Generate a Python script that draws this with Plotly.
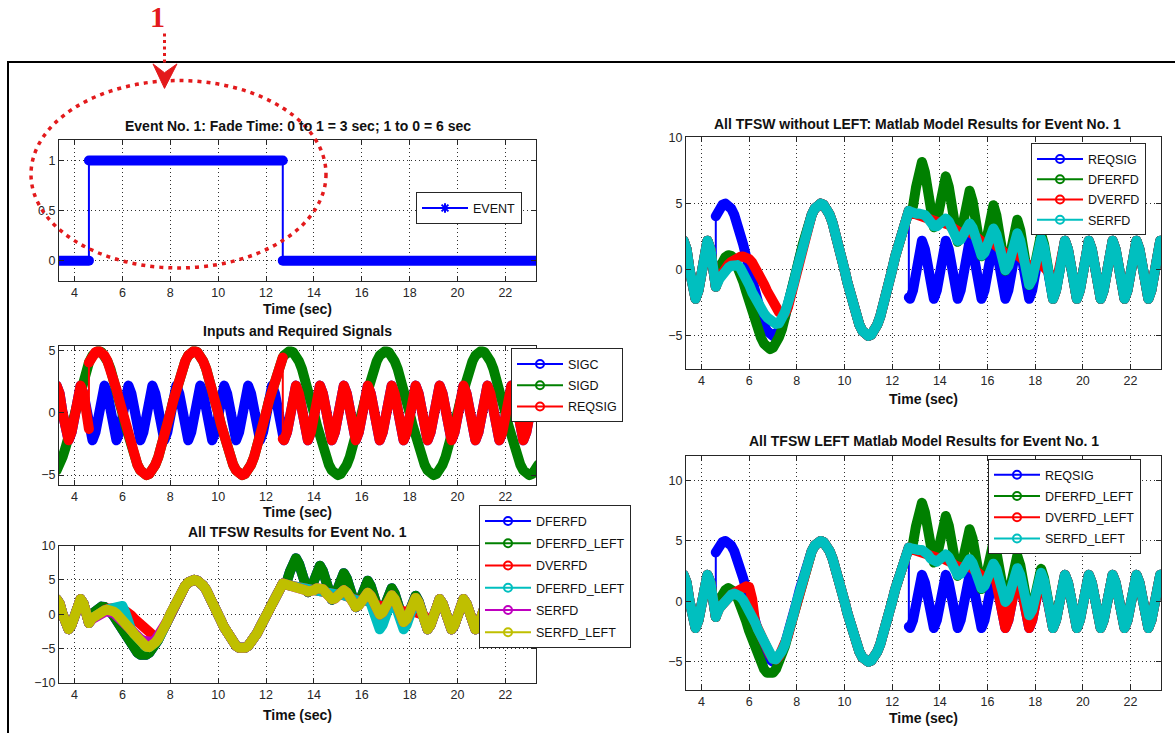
import plotly.graph_objects as go

W, H = 1175, 733

# ---------------- data ----------------
STEP = 0.125
SWITCH_ON = 4.6     # event 0 -> 1
SWITCH_OFF = 12.7   # event 1 -> 0
T = ([3.25 + STEP * i for i in range(11)] + [SWITCH_ON, SWITCH_ON]
     + [4.75 + STEP * i for i in range(63)] + [SWITCH_OFF, SWITCH_OFF]
     + [12.75 + STEP * i for i in range(86)])

EVENT_T = [3.25, 4.6, 4.6, 12.7, 12.7, 23.4]
EVENT_V = [0, 0, 1, 1, 0, 0]

SIGC = [
    2.2, 1.56, 0, -1.56, -2.2, -1.56, 0, 1.56, 2.2, 1.56, 0,        # 3.25 .. 4.5
    -1.29, -1.29,                                                    # 4.6
    -2.2, -1.56,                                                     # 4.75, 4.875
    0, 1.56, 2.2, 1.56, 0, -1.56, -2.2, -1.56,                       # 5
    0, 1.56, 2.2, 1.56, 0, -1.56, -2.2, -1.56,                       # 6
    0, 1.56, 2.2, 1.56, 0, -1.56, -2.2, -1.56,                       # 7
    0, 1.56, 2.2, 1.56, 0, -1.56, -2.2, -1.56,                       # 8
    0, 1.56, 2.2, 1.56, 0, -1.56, -2.2, -1.56,                       # 9
    0, 1.56, 2.2, 1.56, 0, -1.56, -2.2, -1.56,                       # 10
    0, 1.56, 2.2, 1.56, 0, -1.56, -2.2, -1.56,                       # 11
    0, 1.56, 2.2, 1.56, 0,                                           # 12 .. 12.5
    -2.09, -2.09,                                                    # 12.7
    -2.2, -1.56,                                                     # 12.75, 12.875
    0, 1.56, 2.2, 1.56, 0, -1.56, -2.2, -1.56,                       # 13
    0, 1.56, 2.2, 1.56, 0, -1.56, -2.2, -1.56,                       # 14
    0, 1.56, 2.2, 1.56, 0, -1.56, -2.2, -1.56,                       # 15
    0, 1.56, 2.2, 1.56, 0, -1.56, -2.2, -1.56,                       # 16
    0, 1.56, 2.2, 1.56, 0, -1.56, -2.2, -1.56,                       # 17
    0, 1.56, 2.2, 1.56, 0, -1.56, -2.2, -1.56,                       # 18
    0, 1.56, 2.2, 1.56, 0, -1.56, -2.2, -1.56,                       # 19
    0, 1.56, 2.2, 1.56, 0, -1.56, -2.2, -1.56,                       # 20
    0, 1.56, 2.2, 1.56, 0, -1.56, -2.2, -1.56,                       # 21
    0, 1.56, 2.2, 1.56, 0, -1.56, -2.2, -1.56,                       # 22
    0, 1.56, 2.2, 1.56,                                              # 23 .. 23.375
]

SIGD = [
    -4.62, -4.16, -3.54, -2.78, -1.91, -0.98, 0, 0.98, 1.91, 2.78, 3.54,   # 3.25 .. 4.5
    4.05, 4.05,                                                            # 4.6
    4.62, 4.90, 5.0, 4.90, 4.62, 4.16, 3.54, 2.78, 1.91, 0.98,             # 4.75 .. 5.875
    0, -0.98, -1.91, -2.78, -3.54, -4.16, -4.62, -4.90,                    # 6 ..
    -5.0, -4.90, -4.62, -4.16, -3.54, -2.78, -1.91, -0.98,                 # 7 ..
    0, 0.98, 1.91, 2.78, 3.54, 4.16, 4.62, 4.90,                           # 8 ..
    5.0, 4.90, 4.62, 4.16, 3.54, 2.78, 1.91, 0.98,                         # 9 ..
    0, -0.98, -1.91, -2.78, -3.54, -4.16, -4.62, -4.90,                    # 10 ..
    -5.0, -4.90, -4.62, -4.16, -3.54, -2.78, -1.91, -0.98,                 # 11 ..
    0, 0.98, 1.91, 2.78, 3.54,                                             # 12 .. 12.5
    4.46, 4.46,                                                            # 12.7
    4.62, 4.90, 5.0, 4.90, 4.62, 4.16, 3.54, 2.78, 1.91, 0.98,             # 12.75 .. 13.875
    0, -0.98, -1.91, -2.78, -3.54, -4.16, -4.62, -4.90,                    # 14 ..
    -5.0, -4.90, -4.62, -4.16, -3.54, -2.78, -1.91, -0.98,                 # 15 ..
    0, 0.98, 1.91, 2.78, 3.54, 4.16, 4.62, 4.90,                           # 16 ..
    5.0, 4.90, 4.62, 4.16, 3.54, 2.78, 1.91, 0.98,                         # 17 ..
    0, -0.98, -1.91, -2.78, -3.54, -4.16, -4.62, -4.90,                    # 18 ..
    -5.0, -4.90, -4.62, -4.16, -3.54, -2.78, -1.91, -0.98,                 # 19 ..
    0, 0.98, 1.91, 2.78, 3.54, 4.16, 4.62, 4.90,                           # 20 ..
    5.0, 4.90, 4.62, 4.16, 3.54, 2.78, 1.91, 0.98,                         # 21 ..
    0, -0.98, -1.91, -2.78, -3.54, -4.16, -4.62, -4.90,                    # 22 ..
    -5.0, -4.90, -4.62, -4.16,                                             # 23 .. 23.375
]

# fade-in window values, t = 4.6, 4.75 ... 7.75
DFER_ON = [-1.29, 0.1, 0.6, 0.95, 1.1, 1.05, 0.8, 0.35, -0.2, -0.9, -1.65, -2.45, -3.2,
           -3.95, -4.6, -5.15, -5.6, -5.9, -6.0, -5.9, -5.6, -5.1, -4.5, -3.7, -2.8, -1.91]
DVER_ON = [-1.29, -0.6, -0.2, 0.15, 0.4, 0.6, 0.78, 0.9, 0.98, 1.0, 0.95, 0.8, 0.55,
           0.2, -0.2, -0.65, -1.1, -1.6, -2.05, -2.5, -2.9, -3.2, -3.35, -3.3, -2.85, -1.91]
SER_ON = [-1.29, -0.7, -0.35, -0.1, 0.15, 0.3, 0.4, 0.35, 0.15, -0.2, -0.65, -1.15, -1.7,
          -2.2, -2.6, -2.95, -3.3, -3.6, -3.85, -4.0, -4.1, -4.05, -3.75, -3.2, -2.55, -1.91]
DVER_L_ON = [-1.29, -0.55, -0.2, 0.1, 0.35, 0.55, 0.7, 0.85, 1.0, 1.15, 1.25, 1.2, 0.2,
             -1.75, -2.35, -2.9, -3.45, -3.95, -4.4, -4.75, -4.8, -4.55, -4.1, -3.55, -2.85, -1.91]
SER_L_ON = [-1.29, -0.55, -0.2, 0.1, 0.35, 0.55, 0.65, 0.6, 0.4, 0.1, -0.3, -0.7, -1.2,
            -1.75, -2.35, -2.9, -3.45, -3.95, -4.4, -4.75, -4.8, -4.55, -4.1, -3.55, -2.85, -1.91]

# fade-out window values, t = 12.7, 12.75 ... 18.875
DFER_OFF = [4.46,
            4.30, 4.80,
            6.22, 7.65, 8.15, 7.37, 5.68, 3.98, 3.21, 3.71,
            5.13, 6.56, 7.06, 6.28, 4.59, 2.89, 2.11, 2.62,
            4.04, 5.46, 5.97, 5.19, 3.49, 1.80, 1.02, 1.53,
            2.95, 4.37, 4.88, 4.10, 2.40, 0.71, -0.07, 0.43,
            1.86, 3.28, 3.78, 3.01, 1.31, -0.39, -1.16, -0.66,
            0.76, 2.19, 2.69, 1.91, 0.22, -1.48, -2.2, -1.56]
DVER_OFF = [4.46,
            4.35, 4.25,
            4.2, 4.15, 4.15, 4.05, 3.9, 3.72, 3.6, 3.55,
            3.55, 3.55, 3.5, 3.4, 3.2, 3.0, 2.85, 2.8,
            2.85, 2.9, 2.85, 2.7, 2.45, 2.2, 2.0, 1.95,
            2.0, 2.05, 2.0, 1.8, 1.55, 1.3, 1.1, 1.05,
            1.1, 1.15, 1.1, 0.95, 0.7, 0.45, 0.3, 0.3,
            0.35, 0.4, 0.35, 0.2, 0.0, -0.3, -2.2, -1.56]
DVER_L_OFF = [4.46,
              4.35, 4.25,
              4.2, 4.15, 4.15, 4.05, 3.9, 3.72, 3.6, 3.55,
              3.55, 3.55, 3.5, 3.4, 3.2, 3.0, 2.85, 2.8,
              2.85, 2.9, 2.85, 2.7, 2.45, 2.2, 2.0, 1.95,
              1.8, 2.0, 2.2, 1.56, 0, -1.56, -2.2, -1.56,
              0, 1.56, 2.2, 1.56, 0, -1.56, -2.2, -1.56,
              0, 1.56, 2.2, 1.56, 0, -1.56, -2.2, -1.56]
SER_OFF = [4.46,
           4.41, 4.28,
           4.24, 4.25, 4.25, 4.13, 3.87, 3.53, 3.29, 3.28,
           3.49, 3.77, 3.88, 3.65, 3.12, 2.53, 2.18, 2.28,
           2.75, 3.29, 3.50, 3.17, 2.38, 1.53, 1.08, 1.28,
           2.01, 2.80, 3.12, 2.68, 1.64, 0.52, -0.04, 0.27,
           1.26, 2.32, 2.75, 2.20, 0.89, -0.48, -1.15, -0.73,
           0.52, 1.84, 2.37, 1.72, 0.15, -1.48, -2.2, -1.56]

# required signal: SIGC, then SIGD while the event is on, then SIGC again
REQSIG = SIGC[:12] + SIGD[12:77] + SIGC[77:]


def faded(on_vals, off_vals):
    return SIGC[:12] + on_vals + SIGD[38:77] + off_vals + SIGC[128:]


DFERFD = faded(DFER_ON, DFER_OFF)
DFERFD_LEFT = faded(DFER_ON, DFER_OFF)
DVERFD = faded(DVER_ON, DVER_OFF)
DVERFD_LEFT = faded(DVER_L_ON, DVER_L_OFF)
SERFD = faded(SER_ON, SER_OFF)
SERFD_LEFT = faded(SER_L_ON, SER_OFF)

for arr in (SIGC, SIGD, REQSIG, DFERFD, DVERFD, DVERFD_LEFT, SERFD, SERFD_LEFT):
    assert len(arr) == len(T), len(arr)

# ---------------- styling ----------------
BLUE, GREEN, RED = "#0000ff", "#008000", "#ff0000"
CYAN, MAGENTA, OLIVE = "#00bfbf", "#bf00bf", "#bfbf00"
INK = "#262626"
SANS = "Liberation Sans, Arial, sans-serif"


def xp(px):
    return px / W


def yp(py):
    return 1 - py / H


PANELS = {
    1: dict(box=(59, 536, 136, 279), yr=[-0.2, 1.2], yt=[0, 0.5, 1], ytt=["0", "0.5", "1"]),
    2: dict(box=(59, 536, 346, 487), yr=[-5.77, 5.35], yt=[-5, 0, 5], ytt=None),
    3: dict(box=(59, 536, 549, 689), yr=[-10, 10], yt=[-10, -5, 0, 5, 10], ytt=None),
    4: dict(box=(686, 1161, 133, 369), yr=[-7.5, 10], yt=[-5, 0, 5, 10], ytt=None),
    5: dict(box=(686, 1161, 458, 696), yr=[-7.3, 12], yt=[-5, 0, 5, 10], ytt=None),
}
XRANGE = [3.35, 23.28]
XTICKS = [4, 6, 8, 10, 12, 14, 16, 18, 20, 22]

SERIES = {
    1: [("EVENT", BLUE, EVENT_T, EVENT_V)],
    2: [("SIGC", BLUE, T, SIGC), ("SIGD", GREEN, T, SIGD), ("REQSIG", RED, T, REQSIG)],
    3: [("DFERFD", BLUE, T, DFERFD), ("DFERFD_LEFT", GREEN, T, DFERFD_LEFT),
        ("DVERFD", RED, T, DVERFD), ("DFERFD_LEFT", CYAN, T, DVERFD_LEFT),
        ("SERFD", MAGENTA, T, SERFD), ("SERFD_LEFT", OLIVE, T, SERFD_LEFT)],
    4: [("REQSIG", BLUE, T, REQSIG), ("DFERFD", GREEN, T, DFERFD),
        ("DVERFD", RED, T, DVERFD), ("SERFD", CYAN, T, SERFD)],
    5: [("REQSIG", BLUE, T, REQSIG), ("DFERFD_LEFT", GREEN, T, DFERFD_LEFT),
        ("DVERFD_LEFT", RED, T, DVERFD_LEFT), ("SERFD_LEFT", CYAN, T, SERFD_LEFT)],
}

LEGENDS = {
    1: dict(pos=(416, 189), gap=0),
    2: dict(pos=(511, 348), gap=2),
    3: dict(pos=(479, 508), gap=3),
    4: dict(pos=(1031, 139), gap=1),
    5: dict(pos=(988, 461), gap=2),
}

TITLES = {
    1: ("Event No. 1: Fade Time: 0 to 1 = 3 sec; 1 to 0 = 6 sec", 121, None),
    2: ("Inputs and Required Signals", 330, None),
    3: ("All TFSW Results for Event No. 1", 535, None),
    4: ("All TFSW without LEFT: Matlab Model Results for Event No. 1", 119, 917),
    5: ("All TFSW LEFT Matlab Model Results for Event No. 1", 442, None),
}
XLABEL_Y = {1: 308, 2: 515, 3: 722, 4: 400, 5: 725}


def thick_xy(t, v):
    xs, ys = [], []
    for i, (a, b) in enumerate(zip(t, v)):
        if i > 0 and a == t[i - 1]:
            if abs(b - v[i - 1]) > 0.5:
                xs.append(None)
                ys.append(None)
            else:
                continue
        xs.append(a)
        ys.append(b)
    return xs, ys


fig = go.Figure()
layout = dict(
    width=W, height=H, autosize=False, margin=dict(l=0, r=0, t=0, b=0),
    paper_bgcolor="white", plot_bgcolor="white", showlegend=True,
    font=dict(family=SANS, color=INK),
)

annotations = []
for k, p in PANELS.items():
    l, r, t, b = p["box"]
    sfx = "" if k == 1 else str(k)
    common = dict(showline=True, linecolor=INK, linewidth=1, mirror="ticks",
                  ticks="inside", ticklen=5, tickcolor=INK, showgrid=True,
                  gridcolor="#303030", griddash="1px,3px", gridwidth=1,
                  zeroline=False, tickfont=dict(family=SANS, size=12.5, color=INK))
    layout["xaxis" + sfx] = dict(common, domain=[xp(l), xp(r)], range=XRANGE,
                                 tickvals=XTICKS, anchor="y" + sfx)
    yax = dict(common, domain=[yp(b), yp(t)], range=p["yr"], tickvals=p["yt"],
               anchor="x" + sfx)
    if p["ytt"]:
        yax["ticktext"] = p["ytt"]
    layout["yaxis" + sfx] = yax

    lg = LEGENDS[k]
    layout["legend" + sfx] = dict(
        x=xp(lg["pos"][0]), y=yp(lg["pos"][1]), xanchor="left", yanchor="top",
        bordercolor=INK, borderwidth=1, bgcolor="white",
        font=dict(family=SANS, size=12.5, color="#111111"),
        itemwidth=46, traceorder="grouped", tracegroupgap=lg["gap"])

    for i, (name, color, tt, vv) in enumerate(SERIES[k]):
        fig.add_trace(go.Scatter(x=tt, y=vv, mode="lines", line=dict(color=color, width=2),
                                 xaxis="x" + sfx, yaxis="y" + sfx, showlegend=False,
                                 hoverinfo="skip"))
        xs, ys = thick_xy(tt, vv)
        fig.add_trace(go.Scatter(x=xs, y=ys, mode="lines", line=dict(color=color, width=10),
                                 xaxis="x" + sfx, yaxis="y" + sfx, showlegend=False,
                                 hoverinfo="skip"))
    for i, (name, color, tt, vv) in enumerate(SERIES[k]):
        sym = "asterisk-open" if k == 1 else "circle-open"
        fig.add_trace(go.Scatter(x=[None], y=[None], mode="lines+markers", name=name,
                                 line=dict(color=color, width=2),
                                 marker=dict(symbol=sym, size=8, color=color,
                                             line=dict(color=color, width=2)),
                                 xaxis="x" + sfx, yaxis="y" + sfx, showlegend=True,
                                 legend="legend" + sfx, legendgroup=f"g{k}_{i}"))

    cx = (l + r) / 2
    tx = TITLES[k][2] if TITLES[k][2] else cx
    annotations.append(dict(text=TITLES[k][0], x=xp(tx), y=yp(TITLES[k][1]), xref="paper",
                            yref="paper", showarrow=False, xanchor="center", yanchor="middle",
                            font=dict(family=SANS, size=14, color="#111111", weight="bold")))
    annotations.append(dict(text="Time (sec)", x=xp(cx), y=yp(XLABEL_Y[k]), xref="paper",
                            yref="paper", showarrow=False, xanchor="center", yanchor="middle",
                            font=dict(family=SANS, size=14, color="#111111", weight="bold")))

annotations.append(dict(text="1", x=xp(157), y=yp(10), xref="paper", yref="paper",
                        showarrow=False, xanchor="center", yanchor="middle",
                        font=dict(family="Liberation Serif, Times New Roman, serif", size=30,
                                  color="#e31a1c", weight="bold")))
layout["annotations"] = annotations


def path_px(points):
    return "M " + " L ".join(f"{xp(x):.5f},{yp(y):.5f}" for x, y in points) + " Z"


shapes = [
    # outer frame (continues past the right and bottom edges)
    dict(type="rect", xref="paper", yref="paper", x0=xp(8), x1=xp(W + 20), y0=yp(56),
         y1=yp(H + 20), line=dict(color="black", width=2), fillcolor="rgba(0,0,0,0)",
         layer="above"),
    # dotted callout ellipse
    dict(type="circle", xref="paper", yref="paper", x0=xp(31), x1=xp(326), y0=yp(266),
         y1=yp(75), line=dict(color="#e31a1c", width=3.5, dash="4px,5px"), layer="above"),
    # dotted arrow shaft
    dict(type="line", xref="paper", yref="paper", x0=xp(164.5), x1=xp(164.5), y0=yp(27),
         y1=yp(60), line=dict(color="#e31a1c", width=3, dash="3px,3.5px"), layer="above"),
    # arrow head
    dict(type="path", xref="paper", yref="paper",
         path=path_px([(153, 58), (164.5, 83), (177, 58), (164.5, 67)]),
         fillcolor="#e31a1c", line=dict(color="#e31a1c", width=1), layer="above"),
]
layout["shapes"] = shapes
fig.update_layout(**layout)

POST = """
document.documentElement.style.margin = '0';
document.documentElement.style.overflow = 'hidden';
document.body.style.margin = '0';
document.body.style.overflow = 'hidden';
function fixJoins(){
  document.querySelectorAll('.scatterlayer path.js-line').forEach(function(p){
    p.style.strokeLinejoin = 'round'; p.style.strokeLinecap = 'round';
  });
}
fixJoins();
var gd = document.getElementById('{plot_id}');
if (gd && gd.on) { gd.on('plotly_afterplot', fixJoins); }
"""

fig.write_html("out.html", post_script=POST, config={"displayModeBar": False})
